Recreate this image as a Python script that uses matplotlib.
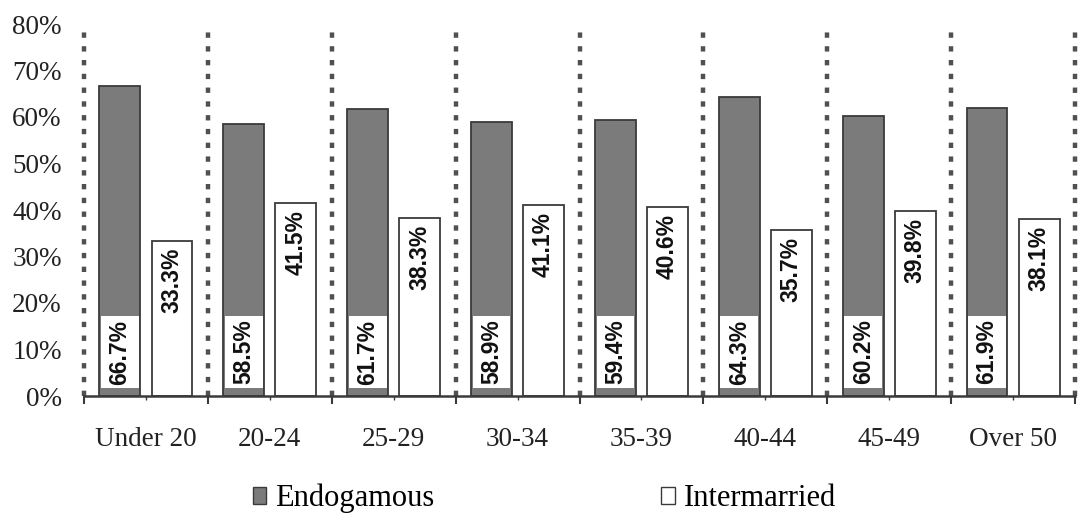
import matplotlib
matplotlib.use('Agg')
import matplotlib.pyplot as plt
from matplotlib.patches import Patch
import numpy as np

# Age groups and shares (%) of marriages
age_groups = ['Under 20', '20-24', '25-29', '30-34', '35-39', '40-44', '45-49', 'Over 50']
endogamous = [66.7, 58.5, 61.7, 58.9, 59.4, 64.3, 60.2, 61.9]
intermarried = [33.3, 41.5, 38.3, 41.1, 40.6, 35.7, 39.8, 38.1]
yticks = [0, 10, 20, 30, 40, 50, 60, 70, 80]

serif = ['Liberation Serif', 'DejaVu Serif']
sans = ['Liberation Sans', 'DejaVu Sans']
edge = '#3a3a3a'
gray = '#7b7b7b'
dotc = '#505050'

fig = plt.figure(figsize=(10.82, 5.13), dpi=100)
ax = fig.add_axes([84 / 1082, 1 - 396 / 513, (1075 - 84) / 1082, (396 - 24) / 513])

x = np.arange(len(age_groups))
w = 0.33
off = 0.21

ax.bar(x - off, endogamous, w, color=gray, edgecolor=edge, linewidth=1.3, zorder=3)
ax.bar(x + off, intermarried, w, color='white', edgecolor=edge, linewidth=1.3, zorder=3)

# white label boxes near the bottom of the endogamous bars
ax.bar(x - off, 15.5, w - 0.025, bottom=1.7, color='white', linewidth=0, zorder=4)

for i in range(len(age_groups)):
    ax.text(x[i] - off, 9.45, f'{endogamous[i]:.1f}%', rotation=90, ha='center', va='center',
            fontsize=16.5, fontweight='bold', family=sans, color='#111111', zorder=5)
    ax.annotate(f'{intermarried[i]:.1f}%', (x[i] + off, intermarried[i]), xytext=(0, -5),
                textcoords='offset points', rotation=90, ha='center', va='top',
                fontsize=16.5, fontweight='bold', family=sans, color='#111111', zorder=5)

# dotted separators between the age groups
for b in np.arange(-0.5, len(age_groups) + 0.5, 1):
    ax.plot([b, b], [0, 80], color=dotc, lw=3.2, linestyle=(0, (1.2, 1.9)),
            solid_capstyle='butt', dash_capstyle='butt', zorder=2, clip_on=False)

ax.set_xlim(-0.5, len(age_groups) - 0.5)
ax.set_ylim(0, 80)

for s in ['left', 'right', 'top']:
    ax.spines[s].set_visible(False)
ax.spines['bottom'].set_color(edge)
ax.spines['bottom'].set_linewidth(1.8)
ax.spines['bottom'].set_zorder(6)

ax.set_yticks(yticks)
ax.set_yticklabels([f'{t}%' for t in yticks], family=serif, fontsize=19.5, color='#222222')
ax.tick_params(axis='y', length=0, pad=16)

ax.set_xticks(x)
ax.set_xticklabels(age_groups, family=serif, fontsize=19.5, color='#222222')
ax.set_xticks(np.arange(-0.5, len(age_groups) + 0.5, 1), minor=True)
ax.tick_params(axis='x', which='major', length=3, width=1, color=edge, pad=19)
ax.tick_params(axis='x', which='minor', length=6, width=1.5, color=edge)

handles = [Patch(facecolor=gray, edgecolor=edge, linewidth=1, label='Endogamous'),
           Patch(facecolor='white', edgecolor=edge, linewidth=1, label='Intermarried')]
fig.legend(handles=handles, loc='center', bbox_to_anchor=(0.503, 0.028), ncol=2, frameon=False,
           prop={'family': serif, 'size': 22}, handlelength=0.45, handleheight=0.45,
           handletextpad=0.3, columnspacing=7.4)

fig.savefig('out.png', dpi=100)
